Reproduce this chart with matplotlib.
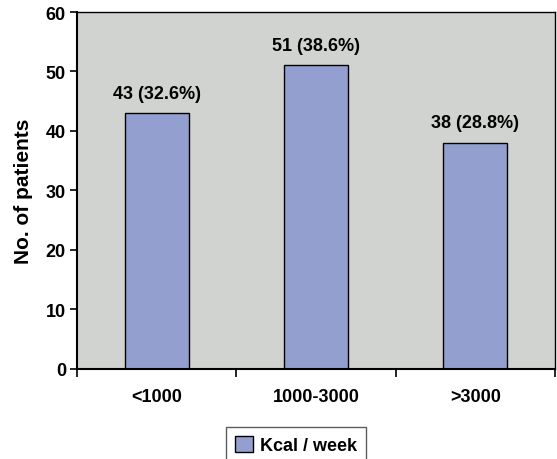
import matplotlib.pyplot as plt
import numpy as np

plt.rcParams['font.family'] = ['Liberation Sans', 'DejaVu Sans']
plt.rcParams['font.weight'] = 'bold'

# categories and counts
categories = ['<1000', '1000-3000', '>3000']
patients = [43, 51, 38]
percent = [32.6, 38.6, 28.8]

fig = plt.figure(figsize=(5.57, 4.6), dpi=100)
ax = fig.add_axes([77 / 557, 1 - 369.5 / 460, 478 / 557, 356.5 / 460])
ax.set_facecolor('#D1D3D1')

x = np.arange(len(categories))
bars = ax.bar(x, patients, width=0.4, color='#939FCF', edgecolor='black',
              linewidth=1.0, label='Kcal / week', zorder=2)

for xi, n, p in zip(x, patients, percent):
    ax.text(xi, n + 1.9, f'{n} ({p}%)', ha='center', va='bottom',
            fontsize=13, fontweight='bold')

ax.set_xlim(-0.5, 2.5)
ax.set_ylim(0, 60)
ax.set_yticks(range(0, 61, 10))
ax.set_xticks(x)
ax.set_xticklabels(categories, fontsize=13, fontweight='bold')
ax.tick_params(axis='x', length=0, pad=14)
ax.set_xticks([-0.5, 0.5, 1.5, 2.5], minor=True)
ax.tick_params(axis='x', which='minor', length=6, width=1.2, direction='out')
ax.tick_params(axis='y', labelsize=13, length=5, width=1.2, direction='out', pad=3)
for lbl in ax.get_yticklabels():
    lbl.set_fontweight('bold')

for side in ['left', 'bottom']:
    ax.spines[side].set_linewidth(1.5)
for side in ['top', 'right']:
    ax.spines[side].set_linewidth(1.0)

ax.set_ylabel('No. of patients', fontsize=15, fontweight='bold', labelpad=9)

leg = fig.legend(handles=[bars], labels=['Kcal / week'], loc='upper left',
                 bbox_to_anchor=(226 / 557, 1 - 428 / 460), frameon=True,
                 fancybox=False, edgecolor='#333333', fontsize=13,
                 handlelength=1.0, handleheight=1.0, handletextpad=0.4,
                 borderpad=0.5, borderaxespad=0)
leg.get_frame().set_linewidth(1.0)

fig.savefig('out.png', dpi=100)
